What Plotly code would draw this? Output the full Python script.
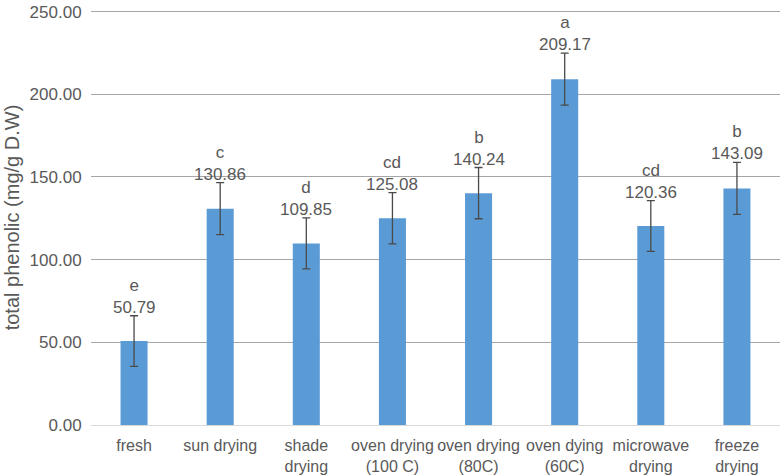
import plotly.graph_objects as go

categories = ["fresh", "sun drying", "shade<br>drying", "oven drying<br>(100 C)",
              "oven drying<br>(80C)", "oven dying<br>(60C)", "microwave<br>drying", "freeze<br>drying"]
values = [50.79, 130.86, 109.85, 125.08, 140.24, 209.17, 120.36, 143.09]
errors = [15.3, 15.7, 15.4, 15.5, 15.5, 15.7, 15.4, 15.7]
letters = ["e", "c", "d", "cd", "b", "a", "cd", "b"]
y_ticks = [0, 50, 100, 150, 200, 250]

FONT = "Liberation Sans, Arial, sans-serif"
TXT = "#595959"

fig = go.Figure()
fig.add_trace(go.Bar(
    x=categories, y=values,
    marker=dict(color="#5B9BD5", line=dict(width=0)),
    error_y=dict(type="data", array=errors, visible=True, color="#4a4a4a",
                 thickness=1.3, width=4),
    hoverinfo="skip",
))

for c, v, e, l in zip(categories, values, errors, letters):
    fig.add_annotation(x=c, y=v + e, text=f"{l}<br>{v:.2f}", showarrow=False,
                       yanchor="bottom", yshift=-3,
                       font=dict(family=FONT, size=17, color=TXT))

fig.update_layout(
    width=782, height=475,
    margin=dict(l=91, r=2, t=10, b=50, autoexpand=False),
    paper_bgcolor="white", plot_bgcolor="white",
    bargap=0.686,
    showlegend=False,
    font=dict(family=FONT, size=16, color=TXT),
)
fig.update_xaxes(showgrid=False, showline=False, ticks="outside", ticklen=6,
                 tickcolor="rgba(0,0,0,0)", tickfont=dict(size=16, color=TXT),
                 tickangle=0)
fig.update_yaxes(range=[0, 251], tickvals=y_ticks,
                 ticktext=[f"{t:.2f}" for t in y_ticks],
                 showgrid=True, gridcolor="#A6A6A6", gridwidth=1,
                 zeroline=True, zerolinecolor="#D9D9D9", zerolinewidth=1,
                 showline=False, ticks="outside", ticklen=5, tickcolor="rgba(0,0,0,0)",
                 tickfont=dict(size=17, color=TXT),
                 title=dict(text="total phenolic (mg/g D.W)", font=dict(size=20, color=TXT), standoff=4))

fig.write_html("out.html", config={"displayModeBar": False},
               post_script="document.body.style.margin='0';document.body.style.overflow='hidden';")
